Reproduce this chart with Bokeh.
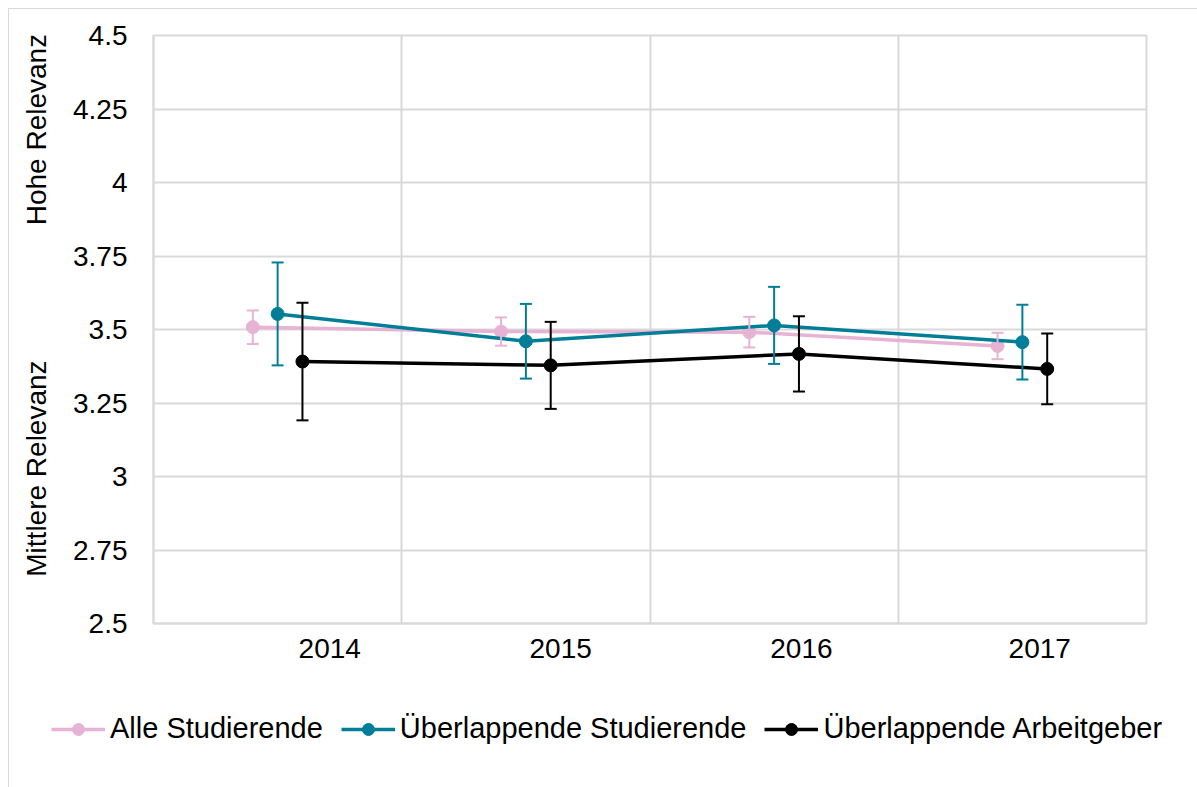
import math
from bokeh.plotting import figure
from bokeh.layouts import row, column
from bokeh.core.properties import value
from bokeh.models import (ColumnDataSource, Range1d, FixedTicker, Legend, LegendItem,
                          Whisker, TeeHead)
from bokeh.embed import file_html
from bokeh.resources import INLINE

# ---------------- data ----------------
years = ["2014", "2015", "2016", "2017"]
series_names = ["Alle Studierende", "Überlappende Studierende", "Überlappende Arbeitgeber"]
alle_mean = [3.508, 3.493, 3.491, 3.444]
alle_err = [0.057, 0.048, 0.052, 0.045]
ueb_stud_mean = [3.553, 3.460, 3.514, 3.457]
ueb_stud_err = [0.175, 0.127, 0.131, 0.127]
ueb_arb_mean = [3.391, 3.378, 3.417, 3.366]
ueb_arb_err = [0.200, 0.148, 0.128, 0.120]
y_ticks = [2.5, 2.75, 3.0, 3.25, 3.5, 3.75, 4.0, 4.25, 4.5]
y_tick_labels = ["2.5", "2.75", "3", "3.25", "3.5", "3.75", "4", "4.25", "4.5"]
axis_notes = ["Hohe Relevanz", "Mittlere Relevanz"]

# ---------------- styles / layout ----------------
colors = ["#E6B3D4", "#007E97", "#000000"]
dodge = [-0.1, 0.0, 0.1]
label_pos = [0.71, 1.64, 2.61, 3.57]   # where the year labels sit on the category axis
note_x = [27, 27]                      # side-note centres (px inside the note strip)
note_y = [4.18, 3.027]                 # ... and their height on the value scale
FONT = "Liberation Sans"
GRID = "#d9d9d9"
NOTE_W = 42
FRAME_W, FRAME_H = 993, 588
LEG_W, LEG_H = 1188, 109

# main chart
p = figure(frame_width=FRAME_W, frame_height=FRAME_H, output_backend="svg", toolbar_location=None,
           x_range=Range1d(0, len(years)), y_range=Range1d(2.5, 4.5),
           min_border_left=102, min_border_right=51, min_border_top=26, min_border_bottom=55,
           background_fill_color="white", border_fill_color="white")
p.outline_line_color = GRID
p.outline_line_width = 2

p.xaxis.ticker = FixedTicker(ticks=label_pos)
p.xaxis.major_label_overrides = {t: y for t, y in zip(label_pos, years)}
p.yaxis.ticker = FixedTicker(ticks=y_ticks)
p.yaxis.major_label_overrides = {t: l for t, l in zip(y_ticks, y_tick_labels)}
for ax in (p.xaxis[0], p.yaxis[0]):
    ax.axis_line_color = GRID
    ax.axis_line_width = 2
    ax.major_tick_line_color = None
    ax.minor_tick_line_color = None
    ax.major_tick_out = 0
    ax.major_tick_in = 0
    ax.major_label_text_font = FONT
    ax.major_label_text_font_size = "28px"
    ax.major_label_text_color = "#000000"
p.yaxis.major_label_standoff = 26
p.xaxis.major_label_standoff = 15

p.xgrid.ticker = FixedTicker(ticks=list(range(len(years) + 1)))
p.xgrid.grid_line_color = GRID
p.xgrid.grid_line_width = 2
p.ygrid.grid_line_color = GRID
p.ygrid.grid_line_width = 2

# narrow strip on the left carrying the two rotated side notes (shares the value scale)
notes = figure(frame_width=NOTE_W, frame_height=FRAME_H, output_backend="svg", toolbar_location=None,
               x_range=Range1d(0, NOTE_W), y_range=p.y_range,
               min_border_left=0, min_border_right=0, min_border_top=26, min_border_bottom=55,
               outline_line_color=None, background_fill_color="white", border_fill_color="white")
notes.xaxis.visible = False
notes.yaxis.visible = False
notes.xgrid.visible = False
notes.ygrid.visible = False
notes.text(x=note_x, y=note_y, text=axis_notes, angle=math.pi / 2,
           text_align="center", text_baseline="middle",
           text_font=value(FONT), text_font_size="28px", text_color="#000000")

# strip below carrying the legend; its ranges lie far from the data so its keys draw no marks
leg = figure(frame_width=LEG_W, frame_height=LEG_H, output_backend="svg", toolbar_location=None,
             x_range=Range1d(100, 101), y_range=Range1d(100, 101),
             min_border_left=0, min_border_right=0, min_border_top=0, min_border_bottom=0,
             outline_line_color=None, background_fill_color="white", border_fill_color="white")
leg.xaxis.visible = False
leg.yaxis.visible = False
leg.xgrid.visible = False
leg.ygrid.visible = False

means = [alle_mean, ueb_stud_mean, ueb_arb_mean]
errs = [alle_err, ueb_stud_err, ueb_arb_err]
items = []
for name, m, e, c, d in zip(series_names, means, errs, colors, dodge):
    xs = [i + 0.5 + d for i in range(len(years))]
    src = ColumnDataSource(dict(x=xs, y=m,
                                upper=[a + b for a, b in zip(m, e)],
                                lower=[a - b for a, b in zip(m, e)]))
    w = Whisker(base="x", upper="upper", lower="lower", source=src, dimension="height",
                line_color=c, line_width=2, level="glyph",
                upper_head=TeeHead(size=12, line_color=c, line_width=2),
                lower_head=TeeHead(size=12, line_color=c, line_width=2))
    p.add_layout(w)
    p.line("x", "y", source=src, line_color=c, line_width=3.5)
    p.scatter("x", "y", source=src, marker="circle", size=13, fill_color=c, line_color=c)
    # legend keys: same series, same styling, drawn in the legend strip (outside its ranges)
    kl = leg.line("x", "y", source=src, line_color=c, line_width=3.5)
    ks = leg.scatter("x", "y", source=src, marker="circle", size=11, fill_color=c, line_color=c)
    items.append(LegendItem(label=name, renderers=[kl, ks]))

legend = Legend(items=items, orientation="horizontal", location=(42, 42),
                label_text_font=FONT, label_text_font_size="29px", label_text_color="#000000",
                glyph_width=54, glyph_height=30, label_standoff=5, spacing=18,
                padding=0, margin=0, border_line_color=None, background_fill_alpha=0)
leg.add_layout(legend, "center")

layout = column(row(notes, p, spacing=0), leg, spacing=0,
                styles={"margin-left": "8px", "margin-top": "8px",
                        "border-left": "1px solid #d9d9d9", "border-top": "1px solid #d9d9d9"})

open("out.html", "w").write(file_html(layout, INLINE))
